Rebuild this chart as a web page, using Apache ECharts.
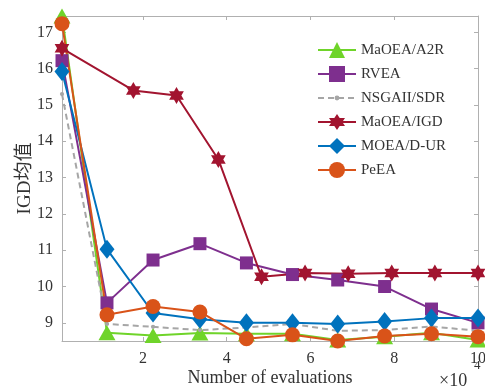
<!DOCTYPE html>
<html>
<head>
<meta charset="utf-8">
<script src="https://cdn.jsdelivr.net/npm/echarts@6/dist/echarts.min.js"></script>
<style>html,body{margin:0;padding:0;background:#fff}#c{width:485px;height:390px}</style>
</head>
<body>
<div id="c"></div>
<script>
var seriesNames = ['MaOEA/A2R', 'RVEA', 'NSGAII/SDR', 'MaOEA/IGD', 'MOEA/D-UR', 'PeEA'];
var xCommon = [0.066, 1.14, 2.24, 3.36, 4.47, 5.57, 6.65, 7.77, 8.89, 10];
var xIGD = [0.066, 1.77, 2.8, 3.8, 4.83, 5.87, 6.9, 7.94, 8.97, 10];
var yA2R = [17.45, 8.73, 8.65, 8.72, 8.7, 8.7, 8.53, 8.62, 8.73, 8.53];
var yRVEA = [16.22, 9.55, 10.73, 11.18, 10.65, 10.33, 10.18, 10.0, 9.38, 9.0];
var yNSGA = [15.3, 8.97, 8.89, 8.8, 8.87, 8.97, 8.78, 8.8, 8.9, 8.78];
var yIGD = [16.56, 15.4, 15.26, 13.5, 10.27, 10.37, 10.35, 10.37, 10.37, 10.37];
var yDUR = [15.92, 11.03, 9.27, 9.1, 9.0, 9.0, 8.97, 9.04, 9.13, 9.13];
var yPeEA = [17.24, 9.22, 9.45, 9.3, 8.56, 8.67, 8.5, 8.64, 8.7, 8.62];
var xTicks = [2, 4, 6, 8, 10];
var yTicks = [9, 10, 11, 12, 13, 14, 15, 16, 17];

function zip(xs, ys) { return xs.map(function (x, i) { return [x, ys[i]]; }); }
var serif = "'Liberation Serif', 'Times New Roman', 'Noto Sans CJK SC', serif";
var axisCol = '#b0b0b0';
var txtCol = '#333333';
var hexagram = 'path://M100,0 L128.87,50 L186.6,50 L157.7,100 L186.6,150 L128.87,150 L100,200 L71.13,150 L13.4,150 L42.3,100 L13.4,50 L71.13,50 Z';
// small dot inside a larger (empty) box, so the marker reads as a point
var smallDot = 'path://M0,0 M100,100 M35,50 A15,15 0 1 1 65,50 A15,15 0 1 1 35,50 Z';

function mk(name, xs, ys, color, symbol, size, extra) {
  var s = {
    name: name, type: 'line', data: zip(xs, ys), clip: false,
    symbol: symbol, symbolSize: size, symbolKeepAspect: true, showAllSymbol: true,
    lineStyle: { color: color, width: 2 },
    itemStyle: { color: color, borderWidth: 0 },
    emphasis: { disabled: true }, animation: false
  };
  if (extra) { for (var k in extra) s[k] = extra[k]; }
  return s;
}

var chart = echarts.init(document.getElementById('c'));
var xBase = {
  type: 'value', min: 0.066, max: 10,
  axisLine: { show: true, lineStyle: { color: axisCol, width: 1 } },
  axisTick: { show: true, inside: true, length: 4, customValues: xTicks, lineStyle: { color: axisCol } },
  splitLine: { show: false }
};
var yBase = {
  type: 'value', min: 8.5, max: 17.45,
  axisLine: { show: true, lineStyle: { color: axisCol, width: 1 } },
  axisTick: { show: true, inside: true, length: 4, customValues: yTicks, lineStyle: { color: axisCol } },
  splitLine: { show: false }
};
var option = {
  animation: false,
  grid: { left: 62, right: 7, top: 16, bottom: 49, outerBoundsMode: 'none', containLabel: false },
  xAxis: [
    Object.assign({}, xBase, {
      position: 'bottom',
      axisLabel: { show: true, customValues: xTicks, color: txtCol, fontFamily: serif, fontSize: 16, margin: 10 },
      name: 'Number of evaluations', nameLocation: 'middle', nameGap: 28, nameMoveOverlap: false,
      nameTextStyle: { color: txtCol, fontFamily: serif, fontSize: 18 }
    }),
    Object.assign({}, xBase, { position: 'top', axisLabel: { show: false } })
  ],
  yAxis: [
    Object.assign({}, yBase, {
      position: 'left',
      axisLabel: { show: true, customValues: yTicks, color: txtCol, fontFamily: serif, fontSize: 16, margin: 9 },
      name: 'IGD均值', nameLocation: 'middle', nameGap: 27, nameRotate: 90, nameMoveOverlap: false,
      nameTextStyle: { color: txtCol, fontFamily: serif, fontSize: 19 }
    }),
    Object.assign({}, yBase, { position: 'right', axisLabel: { show: false } })
  ],
  legend: {
    orient: 'vertical', left: 312, top: 37, itemGap: 8, itemWidth: 38, itemHeight: 20,
    textStyle: { color: txtCol, fontFamily: serif, fontSize: 15 },
    data: seriesNames
  },
  graphic: [
    { type: 'text', left: 439, top: 372, style: { text: '×10', fill: txtCol, font: '18px ' + serif } },
    { type: 'text', left: 474, top: 359, style: { text: '4', fill: txtCol, font: '13px ' + serif } }
  ],
  series: [
    mk(seriesNames[0], xCommon, yA2R, '#6fd42a', 'triangle', [17, 15]),
    mk(seriesNames[1], xCommon, yRVEA, '#7e2f8e', 'rect', 13),
    mk(seriesNames[2], xCommon, yNSGA, '#a6a6a6', smallDot, 14, { lineStyle: { color: '#a6a6a6', width: 2, type: [6, 4] } }),
    mk(seriesNames[3], xIGD, yIGD, '#a2142f', hexagram, 17),
    mk(seriesNames[4], xCommon, yDUR, '#0072bd', 'diamond', [15, 19]),
    mk(seriesNames[5], xCommon, yPeEA, '#d95319', 'circle', 15)
  ]
};
chart.setOption(option);
</script>
</body>
</html>
